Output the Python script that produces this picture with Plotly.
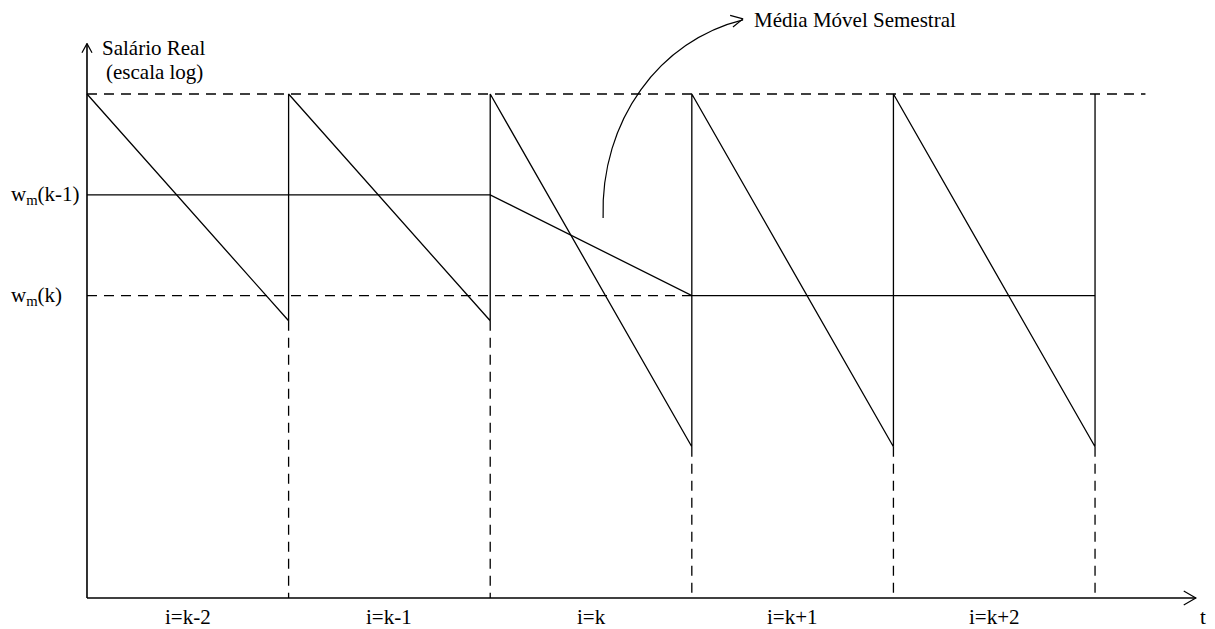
import plotly.graph_objects as go

# Periods (semesters) and the log real wage path within each one
period_labels = ["i=k-2", "i=k-1", "i=k", "i=k+1", "i=k+2"]
period_start = [0, 1, 2, 3, 4]
period_end = [1, 2, 3, 4, 5]
wage_peak = [100, 100, 100, 100, 100]
wage_trough = [55, 55, 30, 30, 30]

# Semester moving average
ma_t = [0, 2, 3, 5]
ma_w = [80, 80, 60, 60]
ma_levels = [80, 60]
ma_labels = ["w<sub>m</sub>(k-1)", "w<sub>m</sub>(k)"]

FONT = "Liberation Serif, Times New Roman, serif"
FSIZE = 21
BLACK = "#000000"
DASH = "10px,7px"

# Plot window in data units (0 at the axes origin)
X0, X1 = -0.4315, 5.595
Y0, Y1 = -6.15, 118.65
X_AXIS_END = 5.5
Y_AXIS_END = 110
TOP_REF_END = 5.25

fig = go.Figure()

# Sawtooth wage path
saw_t, saw_w = [], []
for s, e, hi, lo in zip(period_start, period_end, wage_peak, wage_trough):
    saw_t += [s, e]
    saw_w += [hi, lo]
saw_t.append(period_end[-1])
saw_w.append(wage_peak[-1])
fig.add_trace(go.Scatter(x=saw_t, y=saw_w, mode="lines",
                         line=dict(color=BLACK, width=1.3), hoverinfo="skip"))

# Moving average line
fig.add_trace(go.Scatter(x=ma_t, y=ma_w, mode="lines",
                         line=dict(color=BLACK, width=1.3), hoverinfo="skip"))

# Dashed reference: peak level
fig.add_trace(go.Scatter(x=[0, TOP_REF_END], y=[max(wage_peak)] * 2, mode="lines",
                         line=dict(color=BLACK, width=1.3, dash=DASH), hoverinfo="skip"))
# Dashed reference: w_m(k) level up to where the average reaches it
fig.add_trace(go.Scatter(x=[0, ma_t[2]], y=[ma_levels[1]] * 2, mode="lines",
                         line=dict(color=BLACK, width=1.3, dash=DASH), hoverinfo="skip"))
# Dashed drops from each trough to the time axis
for e, lo in zip(period_end, wage_trough):
    fig.add_trace(go.Scatter(x=[e, e], y=[lo, 0], mode="lines",
                             line=dict(color=BLACK, width=1.3, dash=DASH), hoverinfo="skip"))

# Axes drawn as lines with open arrowheads
ax_dt = 0.06
ax_dy = 1.4
fig.add_trace(go.Scatter(x=[0, 0], y=[0, Y_AXIS_END], mode="lines",
                         line=dict(color=BLACK, width=1.6), hoverinfo="skip"))
fig.add_trace(go.Scatter(x=[-0.025, 0, 0.025], y=[Y_AXIS_END - 1.8, Y_AXIS_END, Y_AXIS_END - 1.8],
                         mode="lines", line=dict(color=BLACK, width=1.2), hoverinfo="skip"))
fig.add_trace(go.Scatter(x=[0, X_AXIS_END], y=[0, 0], mode="lines",
                         line=dict(color=BLACK, width=1.6), hoverinfo="skip"))
fig.add_trace(go.Scatter(x=[X_AXIS_END - ax_dt, X_AXIS_END, X_AXIS_END - ax_dt],
                         y=[ax_dy, 0, -ax_dy], mode="lines",
                         line=dict(color=BLACK, width=1.2), hoverinfo="skip"))

# Curved pointer to the moving-average label
fig.add_shape(type="path",
              path="M 2.56,75.4 C 2.545,94.8 2.842,110.7 3.254,114.7",
              xref="x", yref="y", line=dict(color=BLACK, width=1.2))
fig.add_trace(go.Scatter(x=[3.19, 3.254, 3.204], y=[115.6, 114.9, 113.3], mode="lines",
                         line=dict(color=BLACK, width=1.2), hoverinfo="skip"))

annotations = []
# Period labels centred under each semester
for s, e, lab in zip(period_start, period_end, period_labels):
    annotations.append(dict(x=(s + e) / 2, y=-3.8, text=lab, showarrow=False,
                            xanchor="center", yanchor="middle",
                            font=dict(family=FONT, size=FSIZE, color=BLACK)))
annotations.append(dict(x=5.536, y=-3.8, text="t", showarrow=False,
                        xanchor="center", yanchor="middle",
                        font=dict(family=FONT, size=FSIZE, color=BLACK)))
# Moving average level labels
for lvl, lab in zip(ma_levels, ma_labels):
    annotations.append(dict(x=-0.388, y=lvl, text=lab, showarrow=False,
                            xanchor="left", yanchor="middle",
                            font=dict(family=FONT, size=FSIZE, color=BLACK)))
# Vertical axis title
annotations.append(dict(x=0.066, y=109.2, text="Salário Real", showarrow=False,
                        xanchor="left", yanchor="middle",
                        font=dict(family=FONT, size=FSIZE, color=BLACK)))
annotations.append(dict(x=0.084, y=104.4, text="(escala log)", showarrow=False,
                        xanchor="left", yanchor="middle",
                        font=dict(family=FONT, size=FSIZE, color=BLACK)))
# Pointer label
annotations.append(dict(x=3.3, y=114.7, text="Média Móvel Semestral", showarrow=False,
                        xanchor="left", yanchor="middle",
                        font=dict(family=FONT, size=FSIZE, color=BLACK)))

fig.update_layout(
    width=1215, height=629,
    margin=dict(l=0, r=0, t=0, b=0),
    paper_bgcolor="white", plot_bgcolor="white",
    showlegend=False,
    font=dict(family=FONT, size=FSIZE, color=BLACK),
    xaxis=dict(range=[X0, X1], visible=False, fixedrange=True),
    yaxis=dict(range=[Y0, Y1], visible=False, fixedrange=True),
    annotations=annotations,
)

fig.write_html("out.html")
